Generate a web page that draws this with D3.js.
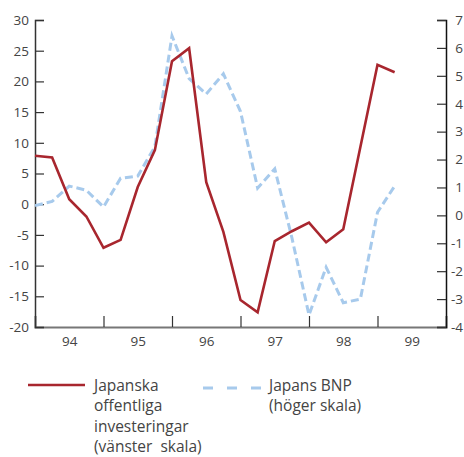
<!DOCTYPE html>
<html><head><meta charset="utf-8">
<script src="https://cdn.jsdelivr.net/npm/d3@7"></script>
<style>
body{margin:0;background:#fff;}
svg text{font-family:"Open Sans",sans-serif;fill:#444;}
</style></head>
<body><svg id="c" width="464" height="457"></svg>
<script>
// Quarterly data, 1994Q1 .. 1999Q2
const quarters = ["94Q1","94Q2","94Q3","94Q4","95Q1","95Q2","95Q3","95Q4","96Q1","96Q2","96Q3","96Q4","97Q1","97Q2","97Q3","97Q4","98Q1","98Q2","98Q3","98Q4","99Q1","99Q2"];
const offentligaInvesteringar = [7.9,7.6,0.8,-2.0,-7.1,-5.8,2.8,8.8,23.3,25.4,3.6,-4.5,-15.6,-17.6,-6.0,-4.4,-3.0,-6.2,-4.1,9.3,22.7,21.5];
const japansBNP = [0.35,0.5,1.05,0.9,0.3,1.33,1.41,2.46,6.43,4.9,4.35,5.07,3.72,0.98,1.67,-0.8,-3.57,-1.86,-3.13,-3.0,0.11,1.05];
const yearLabels = ["94","95","96","97","98","99"];
const leftTicks = [-20,-15,-10,-5,0,5,10,15,20,25,30];
const rightTicks = [-4,-3,-2,-1,0,1,2,3,4,5,6,7];
const legendRed = ["Japanska","offentliga","investeringar","(vänster  skala)"];
const legendBlue = ["Japans BNP","(höger skala)"];

const svg = d3.select("#c");
const X0 = 35, X1 = 446, Y0 = 327, Y1 = 20;
const qTime = q => 1900 + (+q.slice(0,2)) + (+q.slice(3) - 1) / 4;
const x = d3.scaleLinear().domain([1994, 2000]).range([X0, X1]);
const yL = d3.scaleLinear().domain([-20, 30]).range([Y0, Y1]);
const yR = d3.scaleLinear().domain([-4, 7]).range([Y0, Y1]);
const red = "#a8262e", blue = "#a7caec";

// bottom axis line + year boundary ticks
const gB = svg.append("g").attr("transform", `translate(0,${Y0})`)
  .call(d3.axisBottom(x).tickValues([1995,1996,1997,1998,1999]).tickSize(-11).tickFormat(""));
gB.select(".domain").attr("stroke", "#777").attr("stroke-width", 2);
gB.selectAll(".tick line").attr("stroke", "#333").attr("stroke-width", 1.2);

// year labels in middle of each year
const gY = svg.append("g").attr("transform", `translate(0,${Y0})`)
  .call(d3.axisBottom(x).tickValues(yearLabels.map(s => 1900 + +s + 0.5)).tickSize(0).tickPadding(9)
    .tickFormat((d, i) => yearLabels[i]));
gY.select(".domain").remove();
gY.selectAll("text").attr("font-size", 13.5).attr("font-family", "Open Sans").attr("fill", "#444");

// left axis
const gL = svg.append("g").attr("transform", `translate(${X0},0)`)
  .call(d3.axisLeft(yL).tickValues(leftTicks).tickSize(-9).tickPadding(6).tickFormat(d => String(d)));
gL.select(".domain").attr("stroke", "#333").attr("stroke-width", 1.5);
gL.selectAll(".tick line").attr("stroke", "#333").attr("stroke-width", 1.2);
gL.selectAll("text").attr("font-size", 13.5).attr("font-family", "Open Sans").attr("fill", "#444");

// right axis
const gR = svg.append("g").attr("transform", `translate(${X1},0)`)
  .call(d3.axisRight(yR).tickValues(rightTicks).tickSize(-9).tickPadding(17).tickFormat(d => String(d)));
gR.select(".domain").attr("stroke", "#111").attr("stroke-width", 1.5);
gR.selectAll(".tick line").attr("stroke", "#333").attr("stroke-width", 1.2);
gR.selectAll("text").attr("text-anchor", "end").attr("font-size", 13.5).attr("font-family", "Open Sans").attr("fill", "#444");

// lines
const lineL = d3.line().x((d, i) => x(qTime(quarters[i]))).y(d => yL(d));
const lineR = d3.line().x((d, i) => x(qTime(quarters[i]))).y(d => yR(d));
svg.append("path").datum(japansBNP).attr("d", lineR)
  .attr("fill", "none").attr("stroke", blue).attr("stroke-width", 3).attr("stroke-dasharray", "8,4");
svg.append("path").datum(offentligaInvesteringar).attr("d", lineL)
  .attr("fill", "none").attr("stroke", red).attr("stroke-width", 2.6).attr("stroke-linejoin", "miter");

// legend
const lg = svg.append("g");
lg.append("line").attr("x1", 28).attr("x2", 85).attr("y1", 385).attr("y2", 385)
  .attr("stroke", red).attr("stroke-width", 2.6);
lg.append("g").selectAll("text").data(legendRed).join("text")
  .attr("x", 94).attr("y", (d, i) => 391 + i * 20.3).attr("font-size", 15.5).text(d => d)
  .style("white-space", "pre").attr("xml:space", "preserve");
lg.append("line").attr("x1", 203).attr("x2", 261).attr("y1", 388).attr("y2", 388)
  .attr("stroke", blue).attr("stroke-width", 3).attr("stroke-dasharray", "10,14");
lg.append("g").selectAll("text").data(legendBlue).join("text")
  .attr("x", 269).attr("y", (d, i) => 391 + i * 20.3).attr("font-size", 15.5).text(d => d);
</script></body></html>
